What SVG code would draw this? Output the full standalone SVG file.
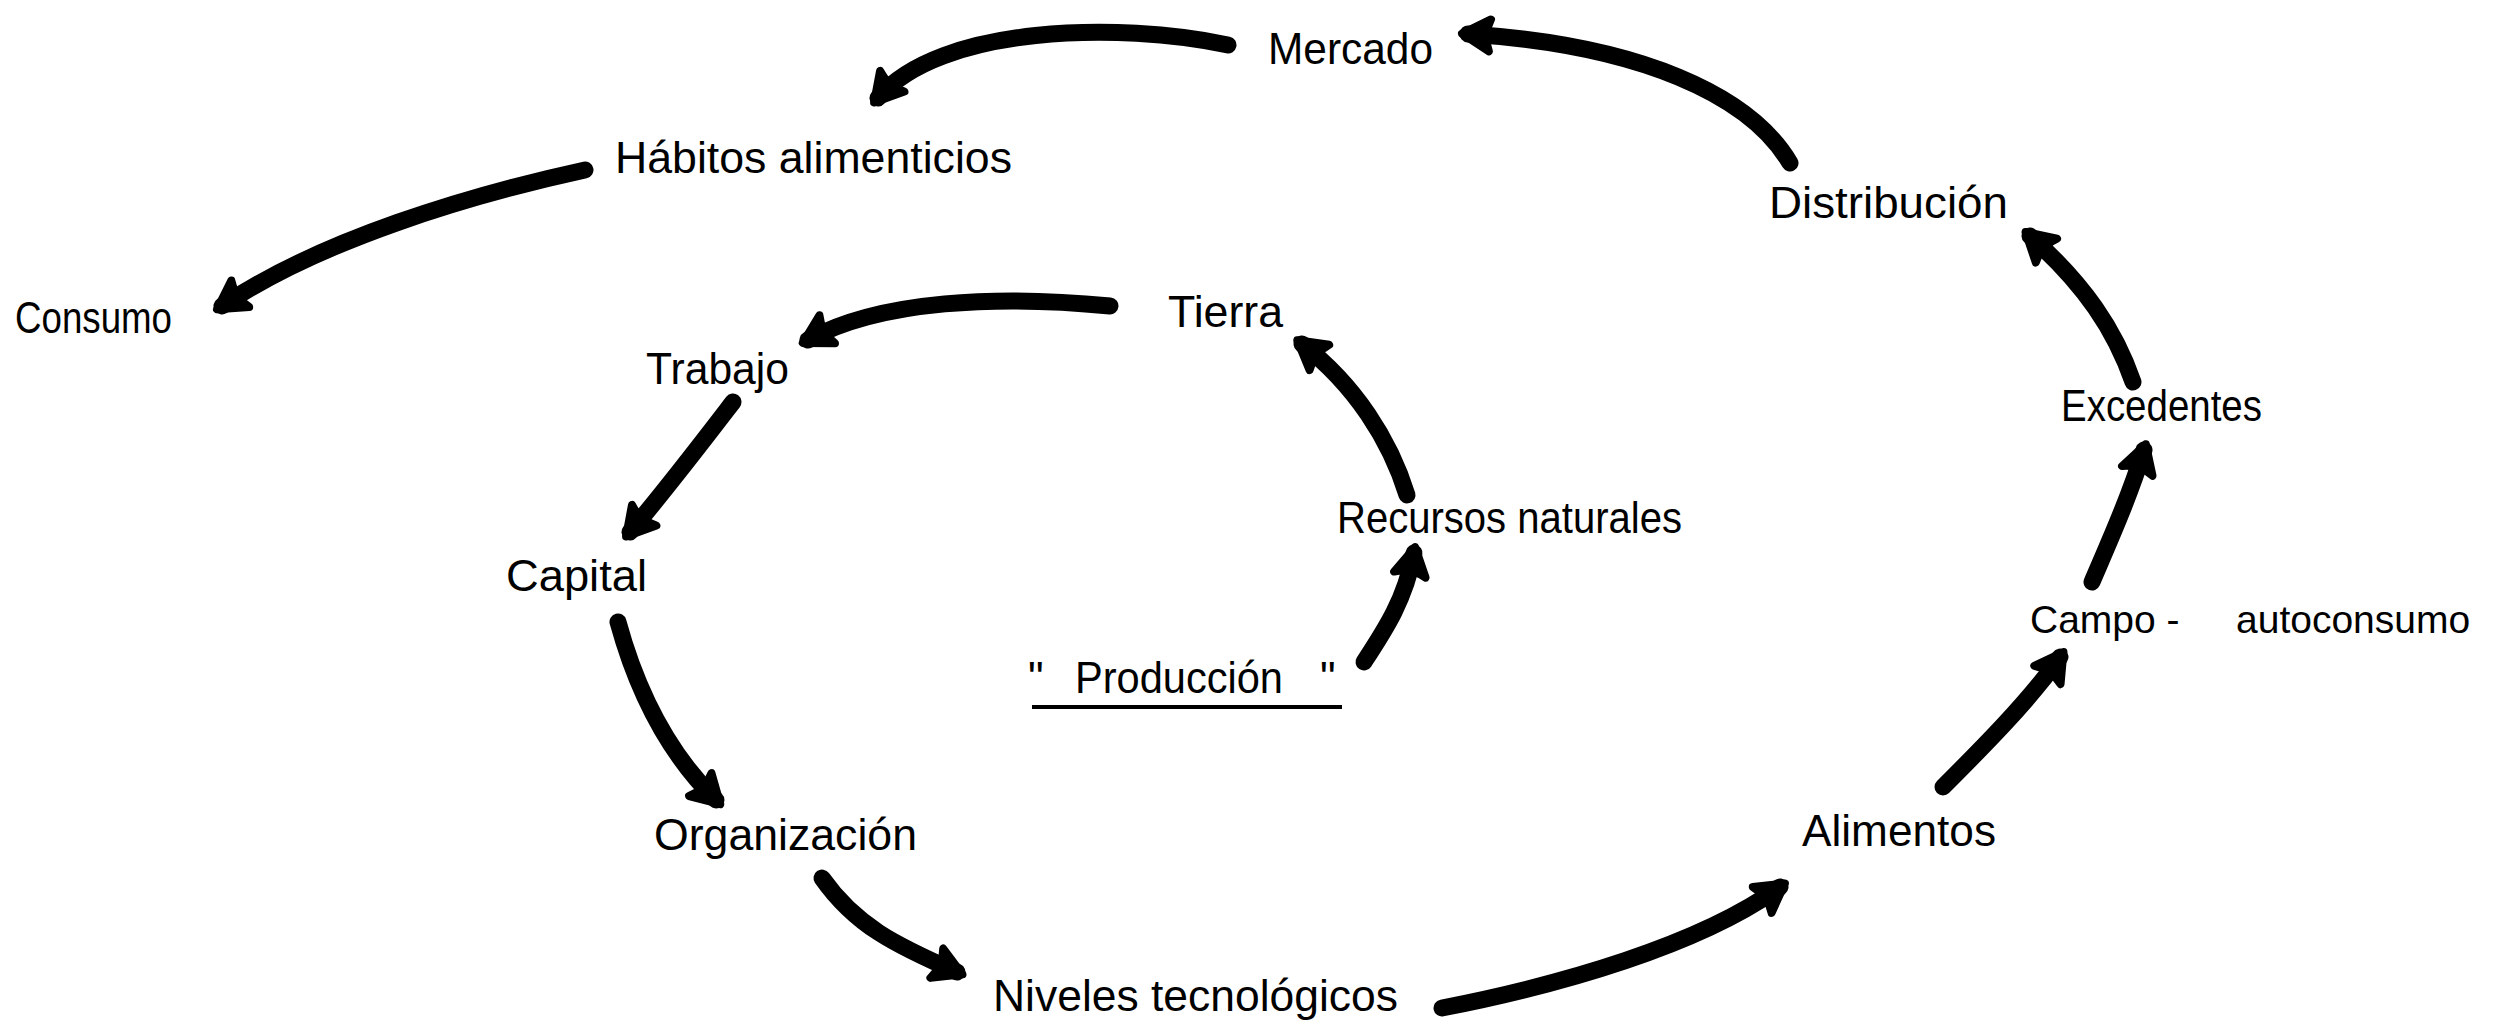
<svg xmlns="http://www.w3.org/2000/svg" width="2494" height="1029" viewBox="0 0 2494 1029">
<style>
.lbl{font-family:"Liberation Sans",Arial,sans-serif;font-size:44px;fill:#000;}
.arr{fill:none;stroke:#000;stroke-width:17;stroke-linecap:round;stroke-linejoin:round;marker-end:url(#head);}
</style>
<defs>
<marker id="head" markerUnits="userSpaceOnUse" viewBox="-40 -25 55 50" markerWidth="55" markerHeight="50" refX="0" refY="0" orient="auto">
<path d="M6,0 L-22,-16 Q-15,0 -22,16 Z" fill="#000" stroke="#000" stroke-width="8" stroke-linejoin="round"/>
</marker>
</defs>
<rect width="2494" height="1029" fill="#fff"/>
<g id="connectors">
<path class="arr" d="M1790,163 C1750,95 1640,45 1468,34"/>
<path class="arr" d="M1228,45 C1120,22 940,25 878,98"/>
<path class="arr" d="M585,170 C470,195 320,240 222,306"/>
<path class="arr" d="M1110,306 C1000,295 880,300 808,340"/>
<path class="arr" d="M733,402 C700,445 668,487 630,532"/>
<path class="arr" d="M618,622 C638,695 670,755 716,800"/>
<path class="arr" d="M822,878 C855,925 895,945 957,972"/>
<path class="arr" d="M1442,1008 C1560,985 1700,945 1780,887"/>
<path class="arr" d="M1943,787 C1980,750 2030,700 2060,657"/>
<path class="arr" d="M2092,582 C2110,540 2128,500 2144,450"/>
<path class="arr" d="M2133,382 C2115,330 2085,285 2030,236"/>
<path class="arr" d="M1364,662 C1385,630 1405,600 1414,553"/>
<path class="arr" d="M1407,495 C1390,440 1355,385 1302,344"/>
</g>
<g id="mercado"><text class="lbl" x="1268" y="64" textLength="165" lengthAdjust="spacingAndGlyphs">Mercado</text></g>
<g id="habitos"><text class="lbl" x="615" y="173" textLength="397" lengthAdjust="spacingAndGlyphs">Hábitos alimenticios</text></g>
<g id="consumo"><text class="lbl" x="15" y="333" textLength="157" lengthAdjust="spacingAndGlyphs">Consumo</text></g>
<g id="distribucion"><text class="lbl" x="1769" y="218" textLength="239" lengthAdjust="spacingAndGlyphs">Distribución</text></g>
<g id="tierra"><text class="lbl" x="1168" y="327" textLength="115" lengthAdjust="spacingAndGlyphs">Tierra</text></g>
<g id="trabajo"><text class="lbl" x="646" y="384" textLength="143" lengthAdjust="spacingAndGlyphs">Trabajo</text></g>
<g id="excedentes"><text class="lbl" x="2061" y="421" textLength="201" lengthAdjust="spacingAndGlyphs">Excedentes</text></g>
<g id="recursos"><text class="lbl" x="1337" y="533" textLength="345" lengthAdjust="spacingAndGlyphs">Recursos naturales</text></g>
<g id="capital"><text class="lbl" x="506" y="591" textLength="141" lengthAdjust="spacingAndGlyphs">Capital</text></g>
<g id="campo"><text class="lbl" y="633" style="font-size:39px"><tspan x="2030">Campo -</tspan><tspan x="2236">autoconsumo</tspan></text></g>
<g id="produccion"><text class="lbl" y="693"><tspan x="1028">"</tspan><tspan x="1075" textLength="208" lengthAdjust="spacingAndGlyphs">Producción</tspan><tspan x="1320">"</tspan></text>
<line x1="1032" y1="707" x2="1342" y2="707" stroke="#000" stroke-width="4"/></g>
<g id="organizacion"><text class="lbl" x="654" y="850" textLength="263" lengthAdjust="spacingAndGlyphs">Organización</text></g>
<g id="alimentos"><text class="lbl" x="1802" y="846" textLength="194" lengthAdjust="spacingAndGlyphs">Alimentos</text></g>
<g id="niveles"><text class="lbl" x="993" y="1011" textLength="405" lengthAdjust="spacingAndGlyphs">Niveles tecnológicos</text></g>
</svg>
